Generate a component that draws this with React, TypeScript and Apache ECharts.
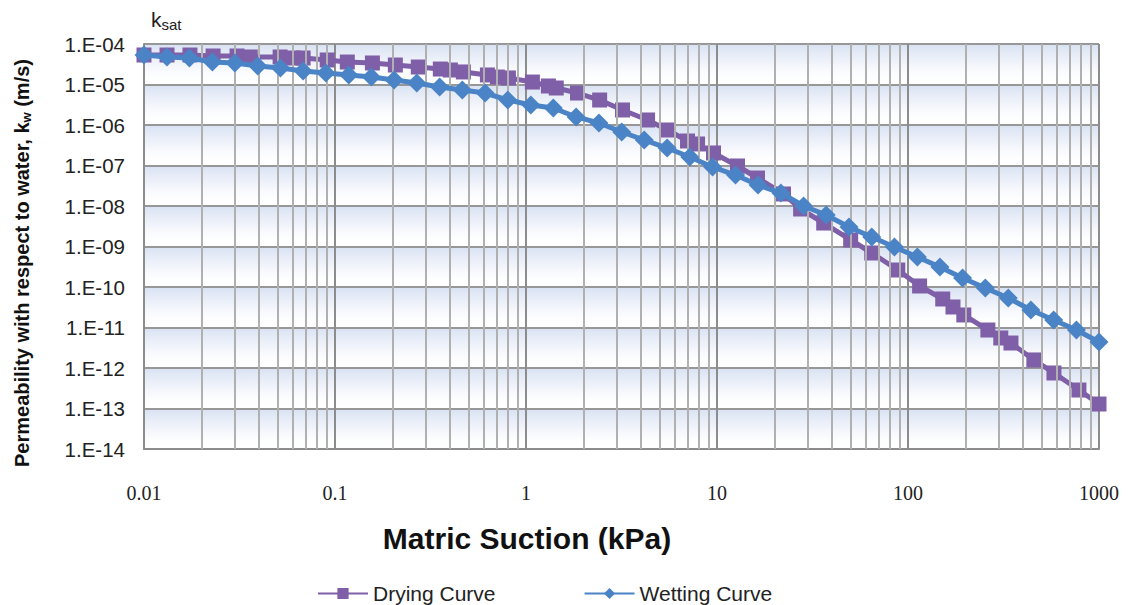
import React, { useEffect, useRef } from 'react';
import * as echarts from 'echarts';

// ---- Data ----
const seriesNames = ['Drying Curve', 'Wetting Curve'];

const dryingSuction = [
  0.01, 0.0132, 0.0174, 0.023, 0.0307, 0.036, 0.0516, 0.0604, 0.0681, 0.091,
  0.116, 0.157, 0.207, 0.273, 0.356, 0.402, 0.47, 0.628, 0.708, 0.809,
  1.08, 1.31, 1.44, 1.86, 2.43, 3.2, 4.33, 5.51, 7.01, 7.91,
  9.59, 12.8, 16.3, 22.3, 27.4, 36.2, 50.1, 64.6, 88.4, 115,
  152, 172, 196, 262, 306, 346, 456, 581, 785, 1000,
];
const dryingK = [
  5.35e-5, 5.35e-5, 5.35e-5, 5.06e-5, 5.06e-5, 4.78e-5, 4.78e-5, 4.51e-5, 4.51e-5, 4.03e-5,
  3.59e-5, 3.4e-5, 3.03e-5, 2.7e-5, 2.41e-5, 2.28e-5, 2.04e-5, 1.72e-5, 1.53e-5, 1.45e-5,
  1.15e-5, 9.19e-6, 8.2e-6, 6.16e-6, 4.14e-6, 2.35e-6, 1.33e-6, 7.53e-7, 4.03e-7, 3.4e-7,
  2.04e-7, 9.73e-8, 4.91e-8, 1.98e-8, 8.43e-9, 3.8e-9, 1.45e-9, 6.91e-10, 2.63e-10, 1.06e-10,
  5.06e-11, 3.21e-11, 2.04e-11, 8.67e-12, 5.51e-12, 4.14e-12, 1.58e-12, 7.53e-13, 2.86e-13, 1.29e-13,
];

const wettingSuction = [
  0.01, 0.0132, 0.0173, 0.0228, 0.0299, 0.0394, 0.0518, 0.0681, 0.0896, 0.118,
  0.155, 0.204, 0.268, 0.353, 0.464, 0.611, 0.803, 1.06, 1.39, 1.83,
  2.41, 3.17, 4.16, 5.48, 7.2, 9.48, 12.5, 16.4, 21.6, 28.4,
  37.3, 49.1, 64.6, 84.9, 112, 147, 193, 254, 335, 440,
  579, 762, 1000,
];
const wettingK = [
  5.35e-5, 4.78e-5, 4.51e-5, 3.59e-5, 3.4e-5, 2.86e-5, 2.55e-5, 2.15e-5, 1.92e-5, 1.72e-5,
  1.53e-5, 1.29e-5, 1.09e-5, 8.67e-6, 7.31e-6, 6.16e-6, 4.14e-6, 3.12e-6, 2.63e-6, 1.58e-6,
  1.12e-6, 6.71e-7, 4.26e-7, 2.7e-7, 1.62e-7, 9.19e-8, 5.82e-8, 3.3e-8, 2.09e-8, 1.0e-8,
  6.0e-9, 3.03e-9, 1.72e-9, 9.73e-10, 5.51e-10, 3.12e-10, 1.67e-10, 9.45e-11, 5.35e-11, 2.7e-11,
  1.53e-11, 8.67e-12, 4.38e-12,
];

const X_MIN = 0.01;
const X_MAX = 1000;
const Y_MIN = 1e-14;
const Y_MAX = 1e-4;

const xTitle = 'Matric Suction (kPa)';

const formatY = (v: number) => {
  const e = Math.round(Math.log10(v));
  return `1.E${e < 0 ? '-' : '+'}${String(Math.abs(e)).padStart(2, '0')}`;
};
const formatX = (v: number) => {
  const e = Math.round(Math.log10(v));
  return e < 0 ? Math.pow(10, e).toFixed(-e) : String(Math.round(Math.pow(10, e)));
};

export default function App() {
  const ref = useRef<HTMLDivElement>(null);

  useEffect(() => {
    if (!ref.current) return;
    const chart = echarts.init(ref.current, undefined, { renderer: 'svg' });

    const xe0 = Math.round(Math.log10(X_MIN));
    const xe1 = Math.round(Math.log10(X_MAX));
    const ye0 = Math.round(Math.log10(Y_MIN));
    const ye1 = Math.round(Math.log10(Y_MAX));

    const minorLines: any[] = [];
    for (let e = xe0; e < xe1; e++) {
      for (let k = 2; k <= 9; k++) {
        minorLines.push({ xAxis: k * Math.pow(10, e), lineStyle: { color: '#b0b0b0', width: 2, type: 'solid' } });
      }
    }
    for (let e = ye0; e < ye1; e++) {
      for (let k = 2; k <= 9; k++) {
        minorLines.push({ yAxis: k * Math.pow(10, e), lineStyle: { color: '#d0d7ea', width: 1, type: 'solid' } });
      }
    }
    const bands: any[] = [];
    for (let e = ye0; e < ye1; e++) {
      bands.push([
        { xAxis: X_MIN, yAxis: Math.pow(10, e + 1) },
        { xAxis: X_MAX, yAxis: Math.pow(10, e) },
      ]);
    }

    const option: any = {
      animation: false,
      backgroundColor: '#ffffff',
      grid: { left: 144, right: 30, top: 44, bottom: 156, containLabel: false },
      legend: {
        data: seriesNames,
        left: 312,
        top: 578,
        itemWidth: 50,
        itemHeight: 14,
        itemGap: 88,
        textStyle: { fontSize: 21, fontFamily: 'Liberation Sans', color: '#222' },
      },
      xAxis: {
        type: 'log',
        logBase: 10,
        min: X_MIN,
        max: X_MAX,
        interval: 1,
        z: 3,
        axisLine: { show: true, lineStyle: { color: '#8c8c8c', width: 2 } },
        axisTick: { show: false },
        axisLabel: { margin: 34, fontSize: 20, fontFamily: 'Liberation Serif', color: '#222', formatter: formatX },
        splitLine: { show: true, lineStyle: { color: '#8c8c8c', width: 2 } },
      },
      yAxis: {
        type: 'log',
        logBase: 10,
        min: Y_MIN,
        max: Y_MAX,
        interval: 1,
        z: 3,
        axisLine: { show: true, lineStyle: { color: '#8c8c8c', width: 2 } },
        axisTick: { show: false },
        axisLabel: { margin: 19, fontSize: 20.5, fontFamily: 'Liberation Sans', color: '#222', formatter: formatY },
        splitLine: { show: true, lineStyle: { color: '#979797', width: 2 } },
      },
      graphic: [
        {
          type: 'text',
          left: 151,
          top: 9,
          style: {
            text: '{k|k}{s|sat}',
            rich: {
              k: { fontSize: 21, fontFamily: 'Liberation Sans', fill: '#222' },
              s: { fontSize: 15, fontFamily: 'Liberation Sans', fill: '#222', padding: [9, 0, 0, 0] },
            },
          },
        },
        {
          type: 'text',
          x: 22,
          y: 263,
          rotation: Math.PI / 2,
          style: {
            text: '{a|Permeability with respect to water, k}{b|w}{a| (m/s)}',
            align: 'center',
            verticalAlign: 'middle',
            rich: {
              a: { fontSize: 20, fontWeight: 'bold', fontFamily: 'Liberation Sans', fill: '#111' },
              b: { fontSize: 13, fontWeight: 'bold', fontFamily: 'Liberation Sans', fill: '#111', padding: [8, 0, 0, 0] },
            },
          },
        },
        {
          type: 'text',
          x: 527,
          y: 538,
          style: {
            text: xTitle,
            align: 'center',
            verticalAlign: 'middle',
            fontSize: 30,
            fontWeight: 'bold',
            fontFamily: 'Liberation Sans',
            fill: '#111',
          },
        },
      ],
      series: [
        {
          name: '__bands',
          type: 'line',
          data: [],
          silent: true,
          z: 1,
          markArea: {
            silent: true,
            itemStyle: {
              color: {
                type: 'linear', x: 0, y: 0, x2: 0, y2: 1,
                colorStops: [
                  { offset: 0, color: 'rgba(214,224,242,0.95)' },
                  { offset: 0.45, color: 'rgba(232,237,248,0.7)' },
                  { offset: 1, color: 'rgba(255,255,255,0)' },
                ],
              },
            },
            data: bands,
          },
        },
        {
          name: '__minor',
          type: 'line',
          data: [],
          silent: true,
          z: 2,
          markLine: {
            silent: true,
            symbol: ['none', 'none'],
            label: { show: false },
            data: minorLines,
          },
        },
        {
          name: seriesNames[0],
          type: 'line',
          data: dryingSuction.map((x, i) => [x, dryingK[i]]),
          symbol: 'rect',
          symbolSize: 15,
          z: 4,
          lineStyle: { color: '#7F5FA8', width: 5 },
          itemStyle: { color: '#7F5FA8' },
        },
        {
          name: seriesNames[1],
          type: 'line',
          data: wettingSuction.map((x, i) => [x, wettingK[i]]),
          symbol: 'diamond',
          symbolSize: 19,
          z: 5,
          lineStyle: { color: '#4A84C6', width: 5 },
          itemStyle: { color: '#4A84C6' },
        },
      ],
    };

    chart.setOption(option);
    return () => chart.dispose();
  }, []);

  return (
    <div
      ref={ref}
      style={{ position: 'fixed', left: 0, top: 0, width: 1129, height: 605, background: '#fff' }}
    />
  );
}
